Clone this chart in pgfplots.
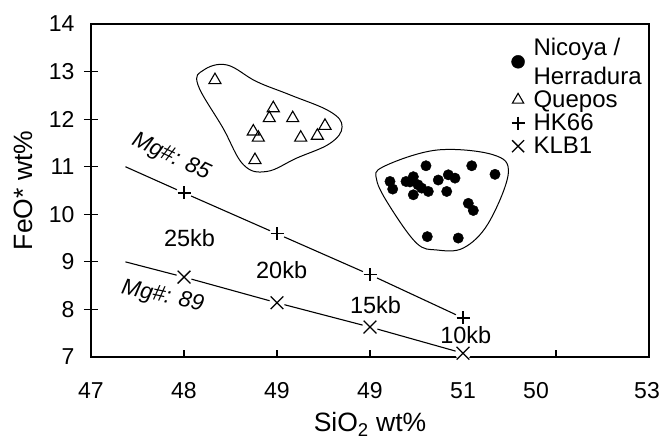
\documentclass[border=0pt]{standalone}
\usepackage{pgfplots}
\pgfplotsset{compat=1.18}
\usepackage{fontspec}
\setmainfont{Liberation Sans}
\pgfplotstableread{
x y
50.215 10.69
50.244 10.53
50.387 10.69
50.466 10.79
50.602 11.02
50.466 10.41
50.556 10.55
50.627 10.48
50.734 10.72
50.842 10.83
50.914 10.76
50.825 10.48
51.094 11.02
51.344 10.84
51.057 10.23
51.111 10.08
50.616 9.53
50.949 9.50
50.516 10.62
50.430 10.68
}\nicoya
\pgfplotstableread{
x y
48.333 12.82
48.960 12.23
48.917 12.02
49.169 12.02
48.745 11.74
48.799 11.61
48.763 11.14
49.255 11.61
49.434 11.65
49.516 11.86
}\quepos
\pgfplotstableread{
x y
48 10.45
49 9.59
50 8.73
51 7.82
}\hk
\pgfplotstableread{
x y
48 8.68
49 8.14
50 7.63
51 7.08
}\klb
\begin{document}
\begin{tikzpicture}
\begin{axis}[
  scale only axis, width=558bp, height=333bp,
  xmin=47, xmax=53, ymin=7, ymax=14,
  xtick={47,48,49,50,51,52,53},
  xticklabels={47,48,49,49,51,{50\hspace*{40bp}},{53\hspace*{4bp}}},
  ytick={7,8,9,10,11,12,13,14},
  extra y ticks={8,9,10,11,12,13},
  extra y tick labels={},
  extra tick style={tick align=outside},
  xtick pos=bottom, ytick pos=left,
  tick align=inside, major tick length=7bp,
  tick style={black, line width=1.2bp},
  axis line style={line width=1.3bp},
  /pgf/number format/assume math mode=true,
  ticklabel style={font=\fontsize{23bp}{26bp}\selectfont},
  xticklabel style={yshift=-22bp},
  yticklabel style={xshift=-13bp},
  xlabel={SiO\textsubscript{2} wt\%}, ylabel={FeO* wt\%},
  label style={font=\fontsize{26.5bp}{30bp}\selectfont},
  xlabel style={yshift=-7bp},
  ylabel style={yshift=2bp},
  legend style={draw=none, fill=none, at={(0.748,0.968)}, anchor=north west,
    font=\fontsize{24bp}{29bp}\selectfont, row sep=3bp, column sep=8bp,
    cells={anchor=west, align=left}, nodes={inner sep=1bp}},
]
% envelopes
\draw[line width=1bp] plot[smooth cycle, tension=0.65] coordinates {
 (48.21,13.03) (48.46,13.14) (48.78,12.79) (49.14,12.51) (49.57,12.16)
 (49.70,11.84) (49.57,11.49) (49.21,11.18) (48.89,10.90) (48.64,11.04)
 (48.42,11.81) (48.15,12.72)};
\draw[line width=1bp] plot[smooth cycle, tension=0.6] coordinates {
 (50.143,11.00) (50.717,11.35) (51.326,11.25) (51.487,10.86) (51.272,9.81)
 (51.003,9.29) (50.717,9.25) (50.502,9.39) (50.215,10.16) (50.072,10.72)};
% model lines
\addplot[forget plot, black, line width=1.1bp] coordinates {(47.37,11.0) (48,10.45) (49,9.59) (50,8.73) (51,7.82)};
\addplot[forget plot, black, line width=1.1bp] coordinates {(47.37,9.0) (48,8.68) (49,8.14) (50,7.63) (51,7.08)};
\addplot[forget plot, only marks, mark=*, mark size=7.5bp, white, mark options={fill=white, draw=none}] table {\hk};
\addplot[forget plot, only marks, mark=*, mark size=7.5bp, white, mark options={fill=white, draw=none}] table {\klb};
% data
\addplot[forget plot, only marks, mark=*, mark size=5.2bp, black] table {\nicoya};
\addplot[forget plot, only marks, mark=triangle, mark size=7bp, black, mark options={line width=1.1bp, fill=white}] table {\quepos};
\addplot[forget plot, only marks, mark=+, mark size=6.5bp, black, mark options={line width=1.3bp}] table {\hk};
\addplot[forget plot, only marks, mark=x, mark size=9bp, black, mark options={line width=1.3bp}] table {\klb};
% legend
\addlegendimage{only marks, mark=*, mark size=6.5bp, black}
\addlegendentry{Nicoya /\\Herradura}
\addlegendimage{only marks, mark=triangle, mark size=6.5bp, black, mark options={line width=1.1bp}}
\addlegendentry{Quepos}
\addlegendimage{only marks, mark=+, mark size=6.5bp, black, mark options={line width=1.3bp}}
\addlegendentry{HK66}
\addlegendimage{only marks, mark=x, mark size=8.5bp, black, mark options={line width=1.3bp}}
\addlegendentry{KLB1}
% annotations
\node[font=\fontsize{22.5bp}{26bp}\selectfont\itshape, rotate=-25] at (axis cs:47.86,11.2) {Mg\#: 85};
\node[font=\fontsize{22.5bp}{26bp}\selectfont\itshape, rotate=-12] at (axis cs:47.77,8.27) {Mg\#: 89};
\node[font=\fontsize{23.5bp}{27bp}\selectfont] at (axis cs:48.06,9.50) {25kb};
\node[font=\fontsize{23.5bp}{27bp}\selectfont] at (axis cs:49.05,8.83) {20kb};
\node[font=\fontsize{23.5bp}{27bp}\selectfont] at (axis cs:50.06,8.10) {15kb};
\node[font=\fontsize{23.5bp}{27bp}\selectfont] at (axis cs:51.03,7.47) {10kb};
\end{axis}
\pgfresetboundingbox
\path ([shift={(-91bp,-84bp)}]current axis.south west) rectangle ([shift={(11bp,24bp)}]current axis.north east);
\end{tikzpicture}
\end{document}
